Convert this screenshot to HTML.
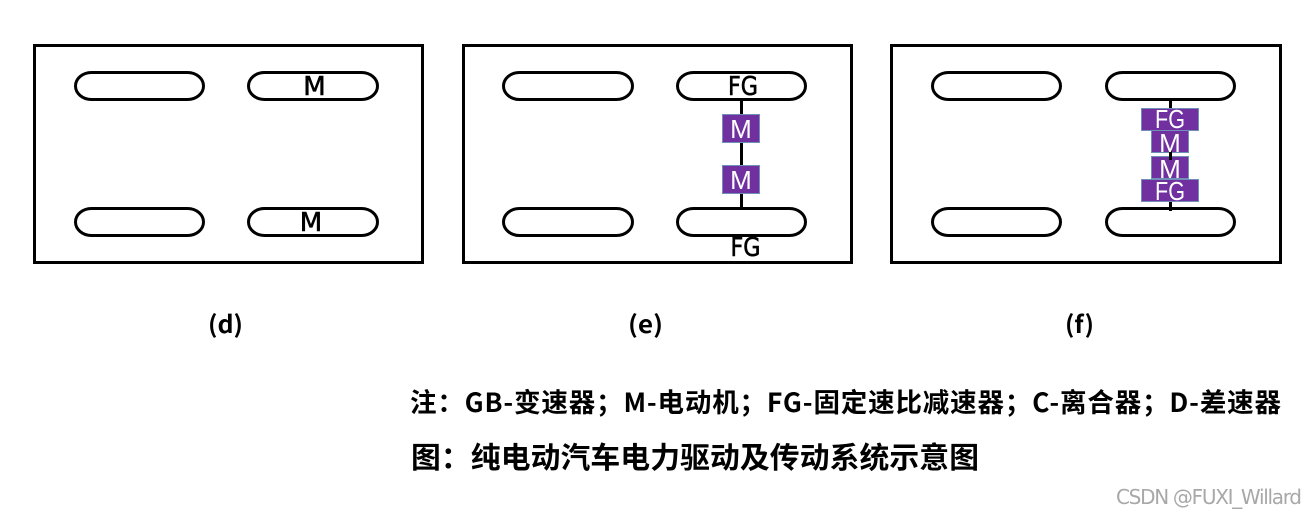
<!DOCTYPE html>
<html><head><meta charset="utf-8"><style>
html,body{margin:0;padding:0;background:#fff;width:1316px;height:516px;overflow:hidden}
svg{display:block}
.b{fill:#fff;stroke:#000;stroke-width:3}
.p{fill:#fff;stroke:#000;stroke-width:3}
.m{fill:#7030a0;stroke:#6f8fb8;stroke-width:1}
.k{font-family:"DejaVu Sans",sans-serif;font-size:26px;fill:#000;stroke:#000;stroke-width:.6;text-anchor:middle}
.w{font-family:"Liberation Sans",sans-serif;font-size:26px;fill:#fff;text-anchor:middle}
.c{font-family:"Noto Sans CJK SC",sans-serif;font-weight:bold;fill:#000}
</style></head><body>
<svg width="1316" height="516" viewBox="0 0 1316 516" xmlns="http://www.w3.org/2000/svg">
<rect class="b" x="34.5" y="45.5" width="388" height="217"/>
<rect class="b" x="463.5" y="45.5" width="388" height="217"/>
<rect class="b" x="891.5" y="45.5" width="389" height="217"/>

<rect class="p" x="75.5" y="72.5" width="128" height="27" rx="16" ry="13.5"/>
<rect class="p" x="248.5" y="72.5" width="129" height="27" rx="16" ry="13.5"/>
<rect class="p" x="75.5" y="208.5" width="128" height="27" rx="16" ry="13.5"/>
<rect class="p" x="248.5" y="208.5" width="129" height="27" rx="16" ry="13.5"/>
<text class="k" x="314.5" y="95">M</text>
<text class="k" x="311" y="231">M</text>

<rect class="p" x="503.5" y="72.5" width="129" height="27" rx="16" ry="13.5"/>
<rect class="p" x="677.5" y="72.5" width="128" height="27" rx="16" ry="13.5"/>
<rect class="p" x="503.5" y="208.5" width="129" height="27" rx="16" ry="13.5"/>
<rect class="p" x="677.5" y="208.5" width="128" height="27" rx="16" ry="13.5"/>
<line x1="741.5" y1="100" x2="741.5" y2="208" stroke="#000" stroke-width="3"/>
<rect class="m" x="722.5" y="114.5" width="37" height="28"/>
<rect class="m" x="722.5" y="165.5" width="37" height="28"/>
<text class="w" x="741" y="138">M</text>
<text class="w" x="741" y="189">M</text>
<text class="k" x="743" y="95" textLength="30" lengthAdjust="spacingAndGlyphs">FG</text>
<text class="k" x="745.5" y="256" textLength="30" lengthAdjust="spacingAndGlyphs">FG</text>

<rect class="p" x="932.5" y="72.5" width="128" height="27" rx="16" ry="13.5"/>
<rect class="p" x="1106.5" y="72.5" width="128" height="27" rx="16" ry="13.5"/>
<rect class="p" x="932.5" y="208.5" width="128" height="27" rx="16" ry="13.5"/>
<rect class="p" x="1106.5" y="208.5" width="128" height="27" rx="16" ry="13.5"/>
<line x1="1170.5" y1="100" x2="1170.5" y2="211" stroke="#000" stroke-width="3"/>
<rect class="m" x="1141.5" y="108.5" width="57" height="22"/>
<rect class="m" x="1151.5" y="130.5" width="37" height="22"/>
<rect class="m" x="1151.5" y="156.5" width="37" height="22"/>
<rect class="m" x="1141.5" y="179.5" width="57" height="22"/>
<line x1="1170.5" y1="150" x2="1170.5" y2="160" stroke="#000" stroke-width="3"/>
<text class="w" x="1170" y="128" textLength="30" lengthAdjust="spacingAndGlyphs">FG</text>
<text class="w" x="1170" y="152">M</text>
<text class="w" x="1170" y="178">M</text>
<text class="w" x="1170" y="200" textLength="30" lengthAdjust="spacingAndGlyphs">FG</text>

<text class="c" x="208" y="333" font-size="24" textLength="35" lengthAdjust="spacingAndGlyphs">(d)</text>
<text class="c" x="628" y="333" font-size="24" textLength="35" lengthAdjust="spacingAndGlyphs">(e)</text>
<text class="c" x="1065" y="333" font-size="24" textLength="29" lengthAdjust="spacingAndGlyphs">(f)</text>

<text class="c" x="410" y="412" font-size="26.5" textLength="871">注：GB-变速器；M-电动机；FG-固定速比减速器；C-离合器；D-差速器</text>
<text class="c" x="411" y="468" font-size="29.8" textLength="568">图：纯电动汽车电力驱动及传动系统示意图</text>

<text x="1116" y="504" font-family="'WenQuanYi Zen Hei','DejaVu Sans',sans-serif" font-size="20" fill="#a8a8a8" textLength="186">CSDN @FUXI_Willard</text>
</svg>
</body></html>
